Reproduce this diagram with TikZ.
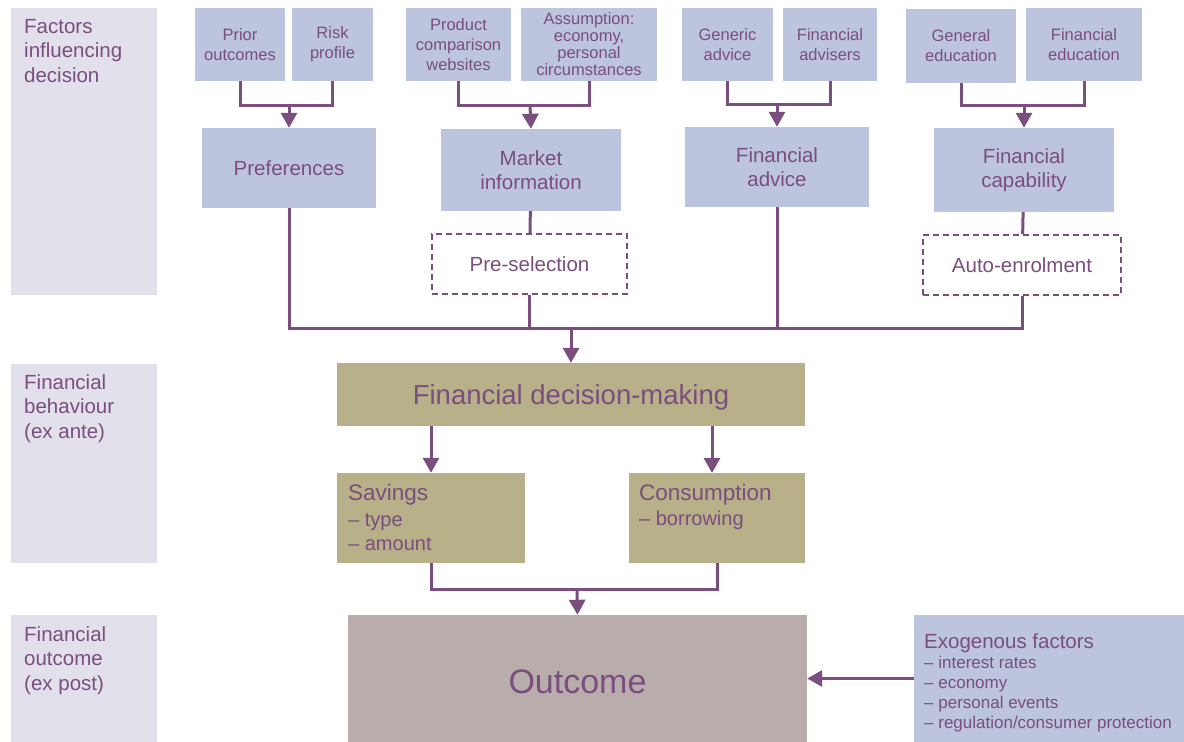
\documentclass[tikz,border=0pt]{standalone}
\usepackage{fontspec}
\setmainfont{Liberation Sans}
\usetikzlibrary{arrows.meta}
\definecolor{plum}{RGB}{122,78,126}
\definecolor{boxblue}{RGB}{188,196,222}
\definecolor{panelgrey}{RGB}{226,225,235}
\definecolor{olive}{RGB}{184,176,136}
\definecolor{taupe}{RGB}{185,173,172}
\tikzset{
  box/.style={fill=boxblue, text=plum, inner sep=0pt, align=center},
  small/.style={box, font=\fontsize{16.5}{20}\selectfont},
  mid/.style={box, font=\fontsize{20.5}{24}\selectfont},
  olivebox/.style={box, fill=olive},
  pick/.style={draw=plum, dash pattern=on 6pt off 4pt, line width=2pt, text=plum, inner sep=0pt, font=\fontsize{20.5}{24}\selectfont},
  panel/.style={fill=panelgrey, inner sep=0pt},
  paneltext/.style={text=plum, align=left, anchor=base west, inner sep=0pt, font=\fontsize{20.5}{24.5}\selectfont},
  head/.style={text=plum, anchor=base west, inner sep=0pt},
  list/.style={text=plum, align=left, anchor=base west, inner sep=0pt},
  link/.style={draw=plum, line width=3pt},
  arr/.style={link, -{Triangle[width=16pt,length=15pt]}},
}
\begin{document}
\begin{tikzpicture}[x=1pt, y=-1pt]
\useasboundingbox (0,0) rectangle (1184,742);
% bandes de gauche
\node[panel, minimum width=146, minimum height=287] (pfactors) at (84,151.5) {};
\node[panel, minimum width=146, minimum height=199] (pbehav) at (84,463.5) {};
\node[panel, minimum width=146, minimum height=127] (presult) at (84,678.5) {};
\node[paneltext] (tfactors) at (24,82) {Factors\\influencing\\decision};
\node[paneltext] (tbehav) at (24,438) {Financial\\behaviour\\(ex ante)};
\node[paneltext] (tresult) at (24,690) {Financial\\outcome\\(ex post)};

% facteurs du haut
\node[small, minimum width=90, minimum height=73] (prior) at (240,44.5) {Prior\\outcomes};
\node[small, minimum width=81, minimum height=73] (risk) at (332.5,44.5) {Risk\\profile};
\node[small, minimum width=105, minimum height=73] (compare) at (458.5,44.5) {Product\\comparison\\websites};
\node[small, minimum width=136, minimum height=73, font=\fontsize{16.5}{17}\selectfont] (assume) at (589,44.5) {Assumption:\\economy,\\personal\\circumstances};
\node[small, minimum width=91, minimum height=73] (generic) at (727.5,44.5) {Generic\\advice};
\node[small, minimum width=94, minimum height=73] (advisers) at (830,44.5) {Financial\\advisers};
\node[small, minimum width=110, minimum height=74] (geneduc) at (961,46) {General\\education};
\node[small, minimum width=116, minimum height=73] (fineduc) at (1084,44.5) {Financial\\education};

% facteurs intermediaires
\node[mid, minimum width=174, minimum height=80] (pref) at (289,168) {Preferences};
\node[mid, minimum width=180, minimum height=82] (market) at (531,170) {Market\\information};
\node[mid, minimum width=184, minimum height=80] (advice) at (777,167) {Financial\\advice};
\node[mid, minimum width=180, minimum height=84] (capab) at (1024,170) {Financial\\capability};

\node[pick, minimum width=195, minimum height=60] (presel) at (529.5,264) {Pre-selection};
\node[pick, minimum width=198, minimum height=60] (auto) at (1022,265) {Auto-enrolment};

% decision et comportement
\node[olivebox, minimum width=468, minimum height=63, text depth=0pt, font=\fontsize{27.5}{32}\selectfont] (decide) at (571,394.5) {Financial decision-making};
\node[olivebox, minimum width=188, minimum height=90] (savings) at (431,518) {};
\node[olivebox, minimum width=176, minimum height=90] (consum) at (717,518) {};
\node[head, font=\fontsize{22.5}{27}\selectfont] (tsavings) at (348,500) {Savings};
\node[list, font=\fontsize{20}{24}\selectfont] (lsavings) at (348,550) {-- type\\-- amount};
\node[head, font=\fontsize{22.5}{27}\selectfont] (tconsum) at (639,500) {Consumption};
\node[list, font=\fontsize{20}{24}\selectfont] (lconsum) at (639,525) {-- borrowing};

% resultat
\node[box, fill=taupe, minimum width=459, minimum height=127, text height=30pt, text depth=0pt, font=\fontsize{34}{40}\selectfont] (outcome) at (577.5,678.5) {Outcome};
\node[box, minimum width=270, minimum height=127] (exog) at (1049,678.5) {};
\node[head, font=\fontsize{20.5}{24}\selectfont] (texog) at (924,648) {Exogenous factors};
\node[list, font=\fontsize{17}{20}\selectfont] (lexog) at (924,728) {-- interest rates\\-- economy\\-- personal events\\-- regulation/consumer protection};

% liaisons du haut
\coordinate (jpref) at (289,105);
\coordinate (jmarket) at (530,105);
\coordinate (jadvice) at (777,104);
\coordinate (jcapab) at (1024,105);
\draw[link] (prior.south) |- (jpref) -| (risk.south);
\draw[link] (compare.south) |- (jmarket) -| (assume.south);
\draw[link] (generic.south) |- (jadvice) -| (advisers.south);
\draw[link] (geneduc.south) |- (jcapab) -| (fineduc.south);
\draw[arr] (jpref) -- (pref.north);
\draw[arr] (jmarket) -- (market.north);
\draw[arr] (jadvice) -- (advice.north);
\draw[arr] (jcapab) -- (capab.north);

% vers la decision
\coordinate (jdecide) at (571,328);
\draw[link] (market) -- (presel);
\draw[link] (capab) -- (auto);
\draw[link] (pref.south) |- (jdecide) -| (auto.south);
\draw[link] (presel.south) -- (presel.south |- jdecide);
\draw[link] (advice.south) -- (advice.south |- jdecide);
\draw[arr] (jdecide) -- (decide.north);

% decision vers resultat
\coordinate (jconsum) at (712,473);
\draw[arr] (decide.south -| savings.north) -- (savings.north);
\draw[arr] (decide.south -| jconsum) -- (jconsum);
\coordinate (jresult) at (577,589);
\draw[link] (savings.south) |- (jresult) -| (consum.south);
\draw[arr] (jresult) -- (outcome.north);
\draw[arr] (exog.west) -- (outcome.east);
\end{tikzpicture}
\end{document}
